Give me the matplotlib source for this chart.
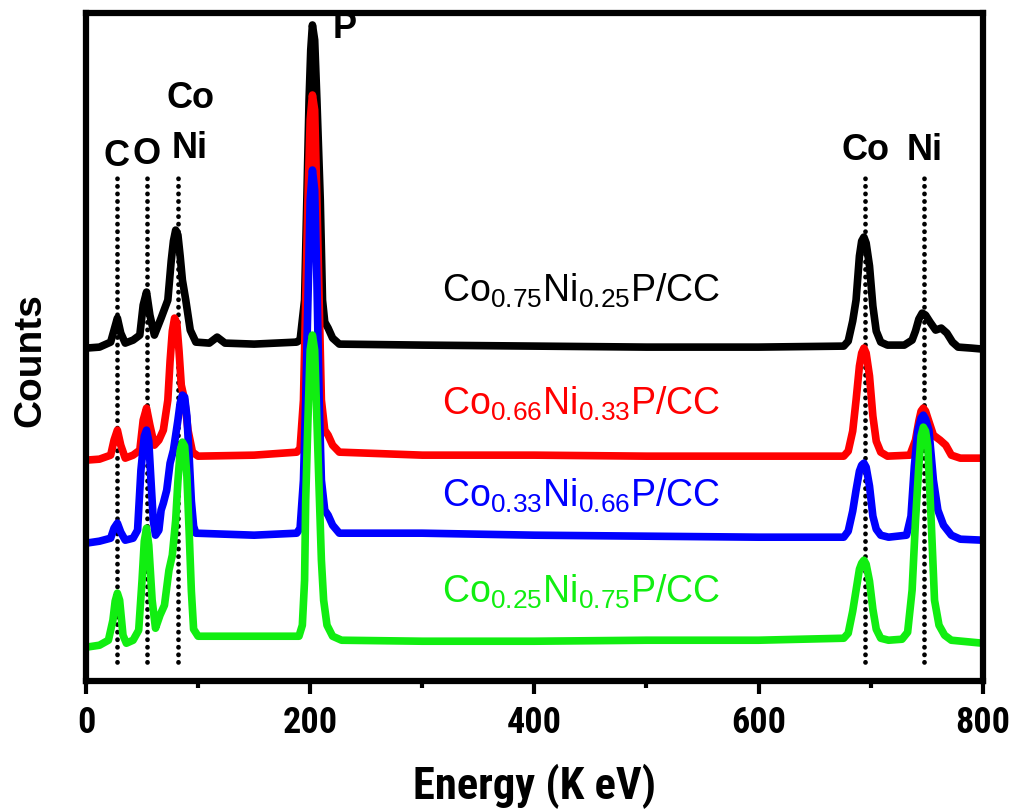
import matplotlib
matplotlib.use("Agg")
import matplotlib.pyplot as plt
from matplotlib import font_manager

# EDS spectra (energy, counts in arbitrary units)
e_black = [0, 12, 22, 25, 28, 31, 35, 42, 48, 51, 54, 57, 61, 67, 73, 76, 78, 80, 82, 84, 86, 89, 93,
           98, 110, 117, 124, 150, 188, 191, 193, 195, 197, 199, 200.5, 202, 204, 206, 209, 211, 213,
           216, 220, 226, 300, 400, 500, 600, 676, 680, 684, 687, 690, 692, 694, 696, 699, 702, 705,
           709, 715, 730, 737, 740, 743, 746, 749, 753, 758, 763, 768, 773, 778, 790, 800]
c_black = [333, 334, 339, 351, 363, 348, 338, 341, 346, 376, 389, 366, 346, 363, 381, 420, 440, 451,
           446, 425, 401, 381, 351, 339, 338, 344, 338, 337, 339, 341, 361, 381, 481, 581, 631, 656,
           641, 581, 481, 381, 359, 353, 343, 337, 336, 335, 334, 334, 335, 340, 360, 381, 425, 440,
           444, 438, 415, 375, 350, 339, 336, 336, 341, 350, 362, 368, 366, 359, 351, 353, 348, 339,
           334, 333, 332]

e_red = [0, 12, 22, 25, 28, 31, 35, 42, 48, 51, 54, 57, 61, 65, 69, 73, 75, 77, 79, 81, 83, 85, 88,
         91, 95, 100, 150, 188, 191, 194, 196, 198, 200, 202, 204, 206, 208, 210, 213, 216, 220, 226,
         300, 400, 500, 600, 676, 680, 684, 687, 690, 692, 694, 696, 699, 702, 705, 709, 715, 735, 740,
         743, 745, 747, 749, 751, 756, 762, 767, 772, 780, 800]
c_red = [221, 222, 226, 241, 251, 236, 223, 226, 231, 261, 273, 256, 236, 241, 251, 281, 320, 350,
         363, 358, 330, 296, 281, 251, 229, 225, 226, 229, 233, 281, 381, 481, 561, 586, 571, 481, 381,
         281, 251, 246, 236, 229, 226, 226, 225, 225, 225, 230, 250, 281, 315, 328, 333, 328, 305, 265,
         240, 229, 225, 226, 241, 260, 270, 273, 270, 263, 246, 241, 236, 226, 223, 223]

e_blue = [0, 12, 22, 25, 28, 31, 35, 42, 46, 49, 52, 54, 56, 58, 60, 62, 65, 67, 69, 72, 75, 78, 82,
          84, 86, 88, 90, 92, 94, 96, 98, 150, 188, 191, 194, 196, 198, 200, 202, 204, 206, 208, 210,
          213, 216, 220, 226, 300, 400, 500, 600, 676, 680, 684, 687, 690, 692, 694, 696, 699, 702,
          705, 709, 716, 732, 736, 739, 742, 745, 747, 749, 752, 756, 760, 765, 772, 780, 800]
c_blue = [138, 140, 143, 153, 158, 149, 141, 143, 151, 211, 245, 251, 240, 200, 161, 146, 151, 171,
          178, 191, 218, 231, 261, 278, 286, 284, 265, 225, 180, 155, 148, 146, 148, 153, 201, 281,
          381, 481, 511, 491, 401, 281, 201, 171, 166, 156, 148, 148, 146, 145, 144, 144, 150, 170,
          191, 210, 216, 218, 214, 195, 165, 152, 146, 144, 146, 165, 215, 250, 263, 266, 262, 251,
          201, 171, 156, 146, 142, 141]

e_green = [0, 12, 20, 24, 26, 28, 30, 33, 36, 42, 47, 50, 52, 54, 56, 59, 62, 66, 70, 74, 77, 80,
           82, 84, 86, 88, 90, 92, 94, 96, 100, 150, 190, 193, 195, 196, 198, 200, 202, 204, 206, 208,
           210, 212, 215, 220, 228, 300, 400, 500, 600, 676, 680, 684, 687, 690, 692, 694, 696, 699,
           702, 705, 709, 716, 728, 733, 737, 740, 743, 745, 747, 749, 751, 754, 757, 761, 766, 772,
           800]
c_green = [34, 36, 41, 61, 80, 88, 81, 46, 38, 41, 51, 101, 140, 153, 136, 81, 53, 66, 76, 111, 126,
           161, 200, 230, 239, 235, 205, 150, 90, 52, 45, 45, 45, 56, 101, 181, 261, 331, 346, 331,
           261, 191, 121, 81, 56, 45, 41, 40, 40, 41, 41, 43, 48, 70, 91, 112, 118, 121, 117, 100, 72,
           52, 43, 41, 42, 49, 91, 160, 215, 245, 254, 250, 235, 161, 81, 56, 46, 41, 38]

series_labels = [r"Co$_{\mathrm{0.75}}$Ni$_{\mathrm{0.25}}$P/CC",
                 r"Co$_{\mathrm{0.66}}$Ni$_{\mathrm{0.33}}$P/CC",
                 r"Co$_{\mathrm{0.33}}$Ni$_{\mathrm{0.66}}$P/CC",
                 r"Co$_{\mathrm{0.25}}$Ni$_{\mathrm{0.75}}$P/CC"]
label_counts = [379, 266, 174, 79]
colors = ["#000000", "#ff0000", "#0000ff", "#11ee11"]

# element marker lines and their labels
left_lines = [27.6, 54.4, 82]
right_lines = [695, 747.5]
peak_names = ["C", "O", "Ni", "Co", "P", "Co", "Ni"]
peak_x = [27.6, 54.4, 92, 93, 231, 695, 748]
peak_y = [525, 527, 533, 583, 652, 531, 531]


def pick_narrow_bold():
    # a condensed family that really has a bold face, else plain Liberation Sans
    bold_names = set()
    for f in font_manager.fontManager.ttflist:
        w = f.weight if isinstance(f.weight, int) else (700 if "bold" in str(f.weight) else 400)
        if w >= 600 and ("Narrow" in f.name or "Condensed" in f.name):
            bold_names.add(f.name)
    for pref in ["Liberation Sans Narrow", "DejaVu Sans Condensed", "Roboto Condensed"]:
        if pref in bold_names:
            return pref
    return sorted(bold_names)[0] if bold_names else "Liberation Sans"


narrow = pick_narrow_bold()

plt.rcParams["font.family"] = "Liberation Sans"
plt.rcParams["mathtext.fontset"] = "custom"
plt.rcParams["mathtext.rm"] = "Liberation Sans"
plt.rcParams["mathtext.it"] = "Liberation Sans"

fig = plt.figure(figsize=(10.19, 8.11), dpi=100)
ax = fig.add_axes([0.0844, 0.160, 0.880, 0.824])

for xv in left_lines:
    ax.plot([xv, xv], [19, 503], color="black", lw=3.4, ls=(0, (0.05, 1.55)),
            dash_capstyle="round", zorder=1)
for xv in right_lines:
    ax.plot([xv, xv], [19, 506], color="black", lw=3.4, ls=(0, (0.05, 1.55)),
            dash_capstyle="round", zorder=1)

spectra = [(e_black, c_black), (e_red, c_red), (e_blue, c_blue), (e_green, c_green)]
for (ex, cy), col in zip(spectra, colors):
    ax.plot(ex, cy, color=col, lw=5.5, solid_joinstyle="round", solid_capstyle="round", zorder=2)

for lab, cy, col in zip(series_labels, label_counts, colors):
    ax.text(318, cy, lab, color=col, fontsize=27, ha="left", va="baseline")

for name, xv, yv in zip(peak_names, peak_x, peak_y):
    ax.text(xv, yv, name, fontsize=26, fontweight="bold", ha="center", va="center")

ax.set_xlim(0, 800)
ax.set_ylim(0, 668)
ax.set_xticks([0, 200, 400, 600, 800])
ax.set_xticks([100, 300, 500, 700], minor=True)
ax.set_yticks([])
ax.tick_params(axis="x", which="major", length=9, width=3, direction="out", pad=8)
ax.tick_params(axis="x", which="minor", length=5, width=3, direction="out")
for lab in ax.get_xticklabels():
    lab.set_fontfamily(narrow)
    lab.set_fontweight("bold")
    lab.set_fontsize(26)
for sp in ax.spines.values():
    sp.set_linewidth(4.5)

fig.text(0.525, 0.030, "Energy (K eV)", fontsize=32, fontweight="bold", family=narrow,
         ha="center", va="center")
fig.text(0.030, 0.556, "Counts", fontsize=28, fontweight="bold", rotation=90,
         ha="center", va="center")

fig.savefig("out.png", dpi=100)
